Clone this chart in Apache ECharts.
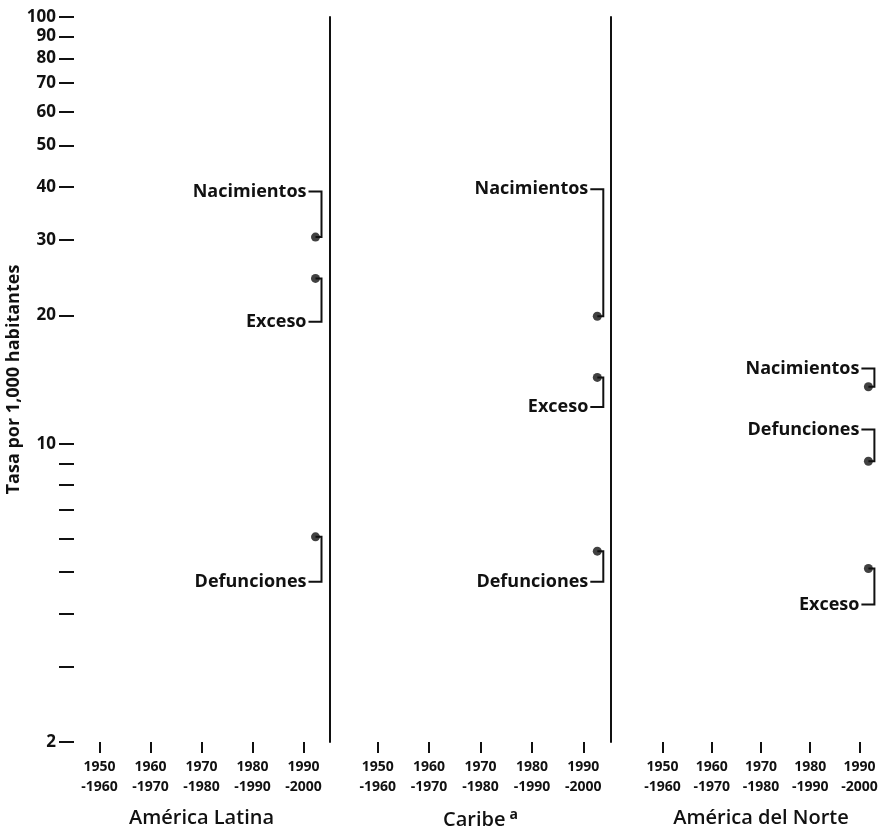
<!DOCTYPE html>
<html>
<head>
<meta charset="utf-8">
<script src="https://cdn.jsdelivr.net/npm/echarts@6/dist/echarts.min.js"></script>
<style>
  html, body { margin: 0; padding: 0; background: #fff; }
  #chart { width: 884px; height: 839px; }
</style>
</head>
<body>
<div id="chart"></div>
<script>
// periodos (eje x de cada panel)
const periods = ['1950\n-1960', '1960\n-1970', '1970\n-1980', '1980\n-1990', '1990\n-2000']
const regions = ['América Latina', 'Caribe', 'América del Norte']

// tasas por 1,000 habitantes, 1990-2000, una por region
const nacimientos = [30.5, 19.9, 13.6]
const exceso = [24.4, 14.3, 5.1]
const defunciones = [6.05, 5.6, 9.1]

// marcas del eje y
const yLabelValues = [2, 10, 20, 30, 40, 50, 60, 70, 80, 90, 100]
const yTickValues = [2, 3, 4, 5, 6, 7, 8, 9, 10, 20, 30, 40, 50, 60, 70, 80, 90, 100]

// donde va cada rotulo (en unidades de la tasa) -- solo maquetacion
const nacLabelAt = [39, 39.5, 15.0]
const excLabelAt = [19.3, 12.2, 4.2]
const defLabelAt = [4.75, 4.75, 10.8]

const FONT = "'Open Sans', 'DejaVu Sans', sans-serif"
const INK = '#111'
const lastIdx = periods.length - 1

const grids = [
  { left: 74, top: 17, width: 255, height: 725 },
  { left: 352, top: 17, width: 257, height: 725 },
  { left: 638, top: 17, width: 254, height: 725 },
]
const dotShift = [12, 14, 9]
const dividerOffset = [1, 2]

let chart = echarts.init(document.getElementById('chart'), null, { renderer: 'canvas' })

let xAxis = regions.map((name, i) => ({
  type: 'category',
  gridIndex: i,
  data: periods,
  boundaryGap: true,
  name: i === 1 ? name + '{sup|a}' : name,
  nameLocation: 'middle',
  nameGap: 66,
  nameTextStyle: {
    fontFamily: FONT,
    fontSize: 20,
    fontWeight: 600,
    color: INK,
    rich: {
      sup: { fontFamily: FONT, fontSize: 14, fontWeight: 'bold', verticalAlign: 'top', padding: [0, 0, 10, 4], color: INK },
    },
  },
  axisLine: { show: false },
  axisTick: { show: true, alignWithLabel: true, length: 11, lineStyle: { color: INK, width: 2 } },
  axisLabel: {
    interval: 0,
    margin: 15,
    fontFamily: FONT,
    fontSize: 14,
    fontWeight: 'bold',
    lineHeight: 20,
    color: INK,
  },
  splitLine: { show: false },
}))

let yAxis = regions.map((name, i) => ({
  type: 'log',
  logBase: 10,
  gridIndex: i,
  min: 2,
  max: 100,
  show: i === 0,
  name: i === 0 ? 'Tasa por 1,000 habitantes' : '',
  nameLocation: 'middle',
  nameRotate: 90,
  nameGap: 50,
  nameTextStyle: { fontFamily: FONT, fontSize: 18, fontWeight: 'bold', color: INK },
  axisLine: { show: false },
  axisTick: {
    show: true,
    length: 15,
    customValues: yTickValues,
    lineStyle: { color: INK, width: 2 },
  },
  axisLabel: {
    margin: 18,
    customValues: yLabelValues,
    fontFamily: FONT,
    fontSize: 17,
    fontWeight: 'bold',
    color: INK,
  },
  splitLine: { show: false },
}))

// lineas que separan los paneles
dividerOffset.forEach((off, i) => {
  yAxis.push({
    type: 'log',
    logBase: 10,
    gridIndex: i,
    min: 2,
    max: 100,
    position: 'right',
    offset: off,
    axisLine: { show: true, lineStyle: { color: INK, width: 2 } },
    axisTick: { show: false },
    axisLabel: { show: false },
    splitLine: { show: false },
  })
})

let series = []

regions.forEach((name, i) => {
  series.push({
    type: 'scatter',
    name: name,
    xAxisIndex: i,
    yAxisIndex: i,
    symbol: 'circle',
    symbolSize: 9,
    symbolOffset: [dotShift[i], 0],
    itemStyle: { color: INK },
    data: [
      [periods[lastIdx], nacimientos[i]],
      [periods[lastIdx], exceso[i]],
      [periods[lastIdx], defunciones[i]],
    ],
    z: 3,
  })

  let texts = ['Nacimientos', 'Exceso', 'Defunciones']
  let values = [nacimientos[i], exceso[i], defunciones[i]]
  let labelAt = [nacLabelAt[i], excLabelAt[i], defLabelAt[i]]

  // rotulos con su corchete hasta el punto
  series.push({
    type: 'custom',
    xAxisIndex: i,
    yAxisIndex: i,
    clip: false,
    silent: true,
    data: values.map((v, k) => [lastIdx, v, labelAt[k]]),
    renderItem: function (params, api) {
      let p = api.coord([api.value(0), api.value(1)])
      let l = api.coord([api.value(0), api.value(2)])
      let dx = p[0] + dotShift[i]
      let cx = dx + 6
      return {
        type: 'group',
        children: [
          {
            type: 'polyline',
            shape: { points: [[cx - 13, l[1]], [cx, l[1]], [cx, p[1]], [dx, p[1]]] },
            style: { stroke: INK, lineWidth: 2, fill: null },
          },
          {
            type: 'text',
            x: cx - 15,
            y: l[1],
            style: {
              text: texts[params.dataIndex],
              fontFamily: FONT,
              fontSize: 18,
              fontWeight: 'bold',
              fill: INK,
              align: 'right',
              verticalAlign: 'middle',
            },
          },
        ],
      }
    },
    z: 2,
  })
})

let option = {
  backgroundColor: '#fff',
  animation: false,
  textStyle: { fontFamily: FONT },
  grid: grids,
  xAxis: xAxis,
  yAxis: yAxis,
  series: series,
}

chart.setOption(option)
</script>
</body>
</html>
